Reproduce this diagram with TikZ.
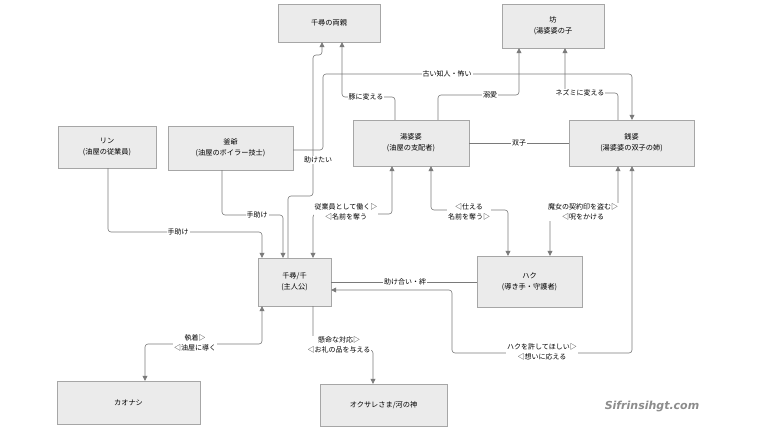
\documentclass[tikz,border=0pt]{standalone}
\usepackage{fontspec}
\setmainfont{Noto Sans CJK JP}
\newfontfamily\wm{DejaVu Sans}
\usetikzlibrary{arrows.meta}
\definecolor{boxf}{HTML}{EBEBEB}
\definecolor{boxd}{HTML}{A6A6A6}
\definecolor{ln}{HTML}{7A7A7A}
\begin{document}
\begin{tikzpicture}[x=1pt,y=-1pt,
  box/.style={draw=boxd,fill=boxf,align=center,font=\fontsize{7.2}{11}\selectfont,inner sep=0pt},
  e/.style={draw=ln,line width=0.6pt,rounded corners=3pt},
  ar/.style={-{Triangle[length=5pt,width=5pt]}},
  bi/.style={{Triangle[length=5pt,width=5pt]}-{Triangle[length=5pt,width=5pt]}},
  lb/.style={fill=white,inner sep=1pt,font=\fontsize{7}{10}\selectfont,align=center,text=black}]
\useasboundingbox[fill=white] (0,0) rectangle (760,428);
\node[box,minimum width=102pt,minimum height=38pt] (par) at (329,23) {千尋の両親};
\node[box,minimum width=102pt,minimum height=44pt] (bou) at (553,26) {坊\\(湯婆婆の子};
\node[box,minimum width=98pt,minimum height=42pt] (rin) at (107,147) {リン\\(油屋の従業員)};
\node[box,minimum width=125pt,minimum height=44pt] (kama) at (230.5,148) {釜爺\\(油屋のボイラー技士)};
\node[box,minimum width=116pt,minimum height=46pt] (yuba) at (411,143) {湯婆婆\\(油屋の支配者)};
\node[box,minimum width=125pt,minimum height=46pt] (zeni) at (631.5,143) {銭婆\\(湯婆婆の双子の姉)};
\node[box,minimum width=73pt,minimum height=48pt] (chi) at (294.5,282) {千尋/千\\(主人公)};
\node[box,minimum width=105pt,minimum height=51pt] (haku) at (529.5,281.5) {ハク\\(導き手・守護者)};
\node[box,minimum width=143pt,minimum height=43pt] (kao) at (128.5,402.5) {カオナシ};
\node[box,minimum width=127pt,minimum height=42pt] (oku) at (383.5,405) {オクサレさま/河の神};

\draw[e,ar] (chi.north -| 288,0) -- (288,196) -- (313,196) -- (313,55) -- (322,55) -- (par.south -| 322,0);
\node[lb] at (318,160) {助けたい};
\draw[e,ar] (kama.east |- 0,150) -- (323,150) -- (323,74) -- (632,74) -- (zeni.north -| 632,0);
\node[lb] at (447,74) {古い知人・怖い};
\draw[e,ar] (yuba.north -| 395,0) -- (395,97) -- (342,97) -- (par.south -| 342,0);
\node[lb] at (366,97) {豚に変える};
\draw[e,ar] (yuba.north -| 438,0) -- (438,95) -- (519,95) -- (bou.south -| 519,0);
\node[lb] at (490,95) {溺愛};
\draw[e,ar] (zeni.north -| 618,0) -- (618,93) -- (565,93) -- (bou.south -| 565,0);
\node[lb] at (580,93) {ネズミに変える};
\draw[e] (yuba.east) -- (zeni.west);
\node[lb] at (519,143) {双子};
\draw[e,ar] (kama.south -| 222,0) -- (222,215) -- (283,215) -- (chi.north -| 283,0);
\node[lb] at (257,215) {手助け};
\draw[e,ar] (rin.south -| 108,0) -- (108,232) -- (262,232) -- (chi.north -| 262,0);
\node[lb] at (178,232) {手助け};
\draw[e,bi] (chi.north -| 313,0) -- (313,214) -- (392,214) -- (yuba.south -| 392,0);
\node[lb] at (346,212) {従業員として働く▷\\◁名前を奪う};
\draw[e,bi] (yuba.south -| 431,0) -- (431,210) -- (508,210) -- (haku.north -| 508,0);
\node[lb] at (469,212) {◁仕える\\名前を奪う▷};
\draw[e,bi] (zeni.south -| 618,0) -- (618,210) -- (550,210) -- (haku.north -| 550,0);
\node[lb] at (583,212) {魔女の契約印を盗む▷\\◁呪をかける};
\draw[e] (chi.east |- 0,282) -- (haku.west |- 0,282);
\node[lb] at (405,282) {助け合い・絆};
\draw[e,bi] (zeni.south -| 632,0) -- (632,353) -- (452,353) -- (452,290) -- (chi.east |- 0,290);
\node[lb] at (542,352) {ハクを許してほしい▷\\◁想いに応える};
\draw[e,bi] (chi.south -| 262,0) -- (262,344) -- (145,344) -- (kao.north -| 145,0);
\node[lb] at (195,343) {執着▷\\◁油屋に導く};
\draw[e,ar] (313,306) -- (313,350) -- (373,350) -- (oku.north -| 373,0);
\node[lb] at (339,345) {懸命な対応▷\\◁お礼の品を与える};
\node[font=\wm\bfseries\itshape\fontsize{11}{12}\selectfont,text=black!45] (wm) at (652,407) {Sifrinsihgt.com};
\end{tikzpicture}
\end{document}
